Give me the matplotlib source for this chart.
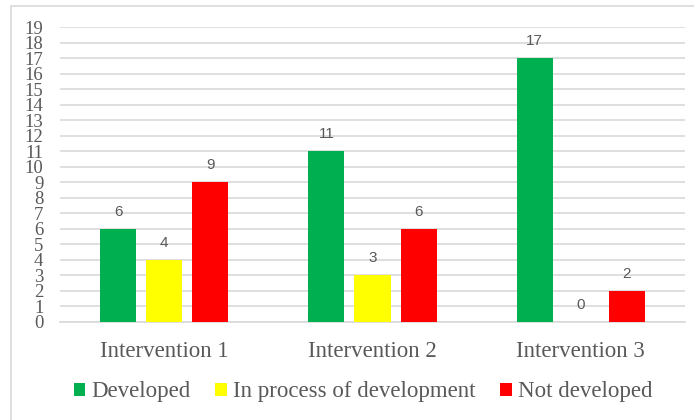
import matplotlib.pyplot as plt
import numpy as np
from matplotlib.patches import Rectangle

categories = ['Intervention 1', 'Intervention 2', 'Intervention 3']
series = ['Developed', 'In process of development', 'Not developed']
developed = [6, 11, 17]
in_process = [4, 3, 0]
not_developed = [9, 6, 2]

colors = ['#00B050', '#FFFF00', '#FF0000']
text_gray = '#595959'
grid_gray = '#D9D9D9'

fig = plt.figure(figsize=(6.94, 4.2), dpi=100)
ax = fig.add_axes([60 / 694, 1 - 322 / 420, 625 / 694, 295 / 420])

# light frame round the whole chart
fig.patches.append(Rectangle((11 / 694, -0.05), 1.0, 1 - 6.5 / 420 + 0.05,
                             transform=fig.transFigure, fill=False,
                             edgecolor=grid_gray, linewidth=1.2))

x = np.arange(len(categories))
width = 0.173
offset = 0.221
for i, (vals, name) in enumerate(zip([developed, in_process, not_developed], series)):
    pos = x + (i - 1) * offset
    ax.bar(pos, vals, width, color=colors[i], label=name, zorder=3)
    for xp, v in zip(pos, vals):
        ax.text(xp, v + 1.1, str(v), ha='center', va='center',
                fontsize=11, color=text_gray, family='Liberation Sans')

ax.set_xlim(-0.5, 2.5)
ax.set_ylim(0, 19)
ax.set_yticks(range(0, 20))
ax.set_xticks(x)
ax.set_xticklabels(categories)
ax.yaxis.grid(True, color=grid_gray, linewidth=1.2, zorder=0)
ax.set_axisbelow(True)
for s in ['top', 'right', 'left']:
    ax.spines[s].set_visible(False)
ax.spines['bottom'].set_color(grid_gray)
ax.spines['bottom'].set_linewidth(1.2)
ax.tick_params(axis='both', length=0, colors=text_gray)
ax.tick_params(axis='y', pad=12)
ax.tick_params(axis='x', pad=14)
for lab in ax.get_yticklabels():
    lab.set_family('Liberation Serif')
    lab.set_fontsize(13.5)
for lab in ax.get_xticklabels():
    lab.set_family('Liberation Serif')
    lab.set_fontsize(16.5)

leg = fig.legend(loc='center', bbox_to_anchor=(0.523, 1 - 392 / 420), ncol=3,
                 frameon=False, prop={'family': 'Liberation Serif', 'size': 16.5},
                 handlelength=0.5, handleheight=0.5, handletextpad=0.25,
                 columnspacing=1.1)
for t in leg.get_texts():
    t.set_color(text_gray)

fig.savefig('out.png', dpi=100)
